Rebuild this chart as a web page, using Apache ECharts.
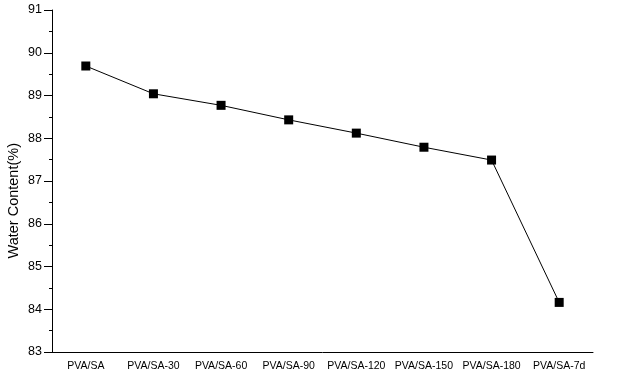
<!DOCTYPE html>
<html><head><meta charset="utf-8">
<script src="https://cdn.jsdelivr.net/npm/echarts@6/dist/echarts.min.js"></script>
<style>html,body{margin:0;padding:0;background:#fff}#c{width:620px;height:377px}</style>
</head><body><div id="c"></div>
<script>
var categories = ['PVA/SA','PVA/SA-30','PVA/SA-60','PVA/SA-90','PVA/SA-120','PVA/SA-150','PVA/SA-180','PVA/SA-7d'];
var waterContent = [89.69, 89.04, 88.77, 88.43, 88.12, 87.79, 87.49, 84.16];
var yMin = 83, yMax = 91, yStep = 1;
var yTitle = 'Water Content(%)';

var chart = echarts.init(document.getElementById('c'), null, {renderer:'canvas'});
chart.setOption({
  animation:false,
  backgroundColor:'#fff',
  grid:{left:52, right:27, top:10, bottom:25, containLabel:false},
  xAxis:{
    type:'category', data:categories, boundaryGap:true,
    axisLine:{lineStyle:{color:'#000', width:1}},
    axisTick:{alignWithLabel:true, length:6, inside:false, lineStyle:{color:'#000'}},
    axisLabel:{color:'#000', fontFamily:'Liberation Sans, Arial', fontSize:10.5, margin:9, interval:0},
    splitLine:{show:false}
  },
  yAxis:{
    type:'value', min:yMin, max:yMax, interval:yStep,
    axisLine:{show:true, lineStyle:{color:'#000', width:1}},
    axisTick:{show:true, length:8, lineStyle:{color:'#000'}},
    minorTick:{show:true, splitNumber:2, length:3, lineStyle:{color:'#000'}},
    axisLabel:{color:'#000', fontFamily:'Liberation Sans, Arial', fontSize:12.5, margin:10},
    splitLine:{show:false}
  },
  graphic:[{
    type:'text', left:6, top:143, rotation:Math.PI/2,
    style:{text:yTitle, fill:'#000', font:'14.5px Liberation Sans, Arial'}
  }],
  series:[{
    type:'line', data:waterContent,
    symbol:'rect', symbolSize:9,
    itemStyle:{color:'#000'},
    lineStyle:{color:'#000', width:1}
  }]
});
</script></body></html>
